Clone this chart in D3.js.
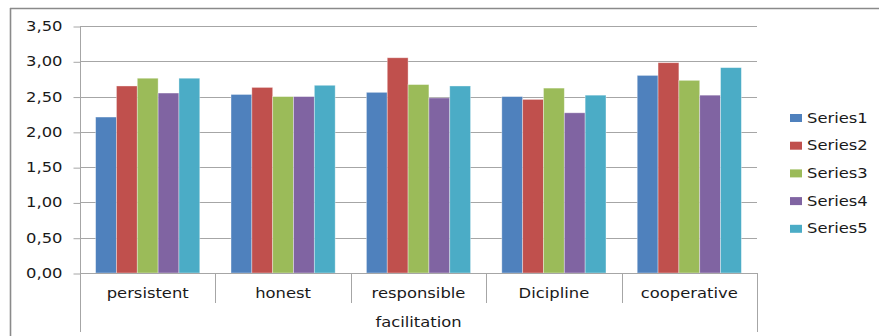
<!DOCTYPE html>
<html>
<head>
<meta charset="utf-8">
<script src="https://cdn.jsdelivr.net/npm/d3@7"></script>
<style>
  html, body { margin: 0; padding: 0; background: #fff; }
  svg { display: block; }
  text { font-family: "DejaVu Sans", Verdana, sans-serif; fill: #1a1a1a; }
</style>
</head>
<body>
<svg id="chart" width="879" height="336"></svg>
<script>
// Ratings per trait, grouped under one parent category
const categories = ["persistent", "honest", "responsible", "Dicipline", "cooperative"];
const groupLabel = "facilitation";
const seriesNames = ["Series1", "Series2", "Series3", "Series4", "Series5"];
const series1 = [2.21, 2.53, 2.56, 2.50, 2.80];
const series2 = [2.65, 2.63, 3.05, 2.46, 2.98];
const series3 = [2.76, 2.50, 2.67, 2.62, 2.73];
const series4 = [2.55, 2.50, 2.48, 2.27, 2.52];
const series5 = [2.76, 2.66, 2.65, 2.52, 2.91];
const yTicks = [0, 0.5, 1, 1.5, 2, 2.5, 3, 3.5];
const colors = ["#4F81BD", "#C0504D", "#9BBB59", "#8064A2", "#4BACC6"];

const seriesValues = [series1, series2, series3, series4, series5];

const svg = d3.select("#chart");
const plot = { left: 80, right: 757, top: 26, bottom: 273 };
const fontSize = 14, stretch = 1.17;

// Outer chart frame (top and left edges)
svg.append("line").attr("x1", 10).attr("x2", 879).attr("y1", 8.5).attr("y2", 8.5)
  .attr("stroke", "#8a8a8a").attr("stroke-width", 1.6);
svg.append("line").attr("x1", 10.5).attr("x2", 10.5).attr("y1", 8).attr("y2", 336)
  .attr("stroke", "#8a8a8a").attr("stroke-width", 1.6);

const x0 = d3.scaleBand().domain(categories).range([plot.left, plot.right]).paddingInner(0).paddingOuter(0);
const bandW = x0.bandwidth();
const barW = bandW / 6.5;
const x1 = d3.scaleBand().domain(seriesNames)
  .range([0.75 * barW, 0.75 * barW + 5 * barW]);
const y = d3.scaleLinear().domain([0, 3.5]).range([plot.bottom, plot.top]);

// Horizontal gridlines
svg.append("g").selectAll("line").data(yTicks.filter(t => t > 0)).join("line")
  .attr("x1", plot.left).attr("x2", plot.right)
  .attr("y1", d => Math.round(y(d)) + 0.5).attr("y2", d => Math.round(y(d)) + 0.5)
  .attr("stroke", "#a6a6a6").attr("stroke-width", 1);

// Value axis
const yAxis = d3.axisLeft(y).tickValues(yTicks).tickSize(7).tickPadding(11)
  .tickFormat(d => d3.format(".2f")(d).replace(".", ","));
const gy = svg.append("g").attr("transform", `translate(${plot.left + 0.5},0)`).call(yAxis);
gy.select(".domain").remove();
gy.selectAll(".tick line").attr("stroke", "#a6a6a6").attr("transform", "translate(0,0.5)");
gy.selectAll(".tick text")
  .attr("font-size", fontSize).attr("font-family", "DejaVu Sans, sans-serif")
  .attr("fill", "#1a1a1a")
  .each(function () {
    const t = d3.select(this);
    const xPos = +t.attr("x");
    t.attr("x", null).attr("transform", `translate(${xPos},0) scale(${stretch},1)`);
  });

// Bars
const groups = svg.append("g").selectAll("g").data(categories).join("g")
  .attr("transform", d => `translate(${x0(d)},0)`);
groups.selectAll("rect")
  .data((c, i) => seriesNames.map((s, k) => ({ s, k, v: seriesValues[k][i] })))
  .join("rect")
  .attr("x", d => x1(d.s))
  .attr("width", x1.bandwidth())
  .attr("y", d => y(d.v))
  .attr("height", d => y(0) - y(d.v))
  .attr("fill", d => colors[d.k])
  .attr("stroke", "rgba(255,255,255,0.45)").attr("stroke-width", 0.8);

// Category axis baseline and separators
svg.append("line").attr("x1", plot.left).attr("x2", plot.right)
  .attr("y1", plot.bottom + 0.5).attr("y2", plot.bottom + 0.5).attr("stroke", "#a6a6a6");
svg.append("line").attr("x1", plot.left + 0.5).attr("x2", plot.left + 0.5)
  .attr("y1", plot.top).attr("y2", 332).attr("stroke", "#a6a6a6");
svg.append("line").attr("x1", plot.right + 0.5).attr("x2", plot.right + 0.5)
  .attr("y1", plot.bottom).attr("y2", 332).attr("stroke", "#a6a6a6");
svg.append("g").selectAll("line").data(categories.slice(1)).join("line")
  .attr("x1", d => Math.round(x0(d)) + 0.5).attr("x2", d => Math.round(x0(d)) + 0.5)
  .attr("y1", plot.bottom).attr("y2", 303).attr("stroke", "#a6a6a6");

function stretchedText(sel, x, yPos, str) {
  sel.append("text")
    .attr("transform", `translate(${x},${yPos}) scale(${stretch},1)`)
    .attr("text-anchor", "middle").attr("dominant-baseline", "central")
    .attr("font-size", fontSize).text(str);
}

// Category labels
categories.forEach(c => stretchedText(svg, x0(c) + bandW / 2, 293, c));
stretchedText(svg, (plot.left + plot.right) / 2, 322, groupLabel);

// Legend
const legend = svg.append("g");
seriesNames.forEach((s, k) => {
  const cy = 118 + k * 27.7;
  legend.append("rect").attr("x", 790).attr("y", cy - 4).attr("width", 12).attr("height", 8)
    .attr("fill", colors[k]);
  legend.append("text")
    .attr("transform", `translate(807,${cy}) scale(${stretch},1)`)
    .attr("dominant-baseline", "central").attr("font-size", fontSize).text(s);
});
</script>
</body>
</html>
